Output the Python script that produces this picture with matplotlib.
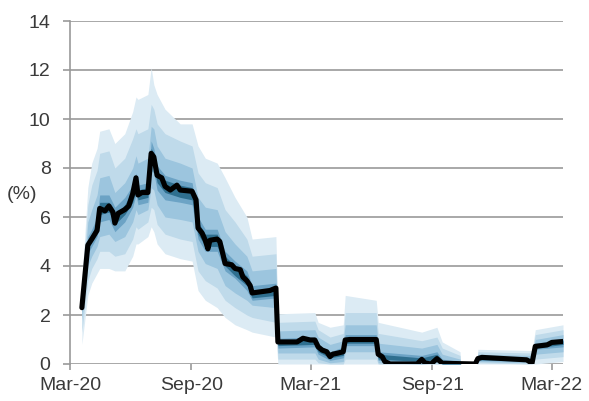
import numpy as np
import pandas as pd
import matplotlib
matplotlib.use("Agg")
import matplotlib.pyplot as plt
import matplotlib.dates as mdates
from matplotlib.transforms import blended_transform_factory

# медиана (чёрная линия)
line_dates = ["2020-03-19", "2020-03-28", "2020-04-03", "2020-04-11", "2020-04-15",
              "2020-04-23", "2020-04-29", "2020-05-05", "2020-05-08", "2020-05-13",
              "2020-05-23", "2020-05-29", "2020-06-04", "2020-06-09", "2020-06-12",
              "2020-06-18", "2020-06-27", "2020-07-02", "2020-07-06", "2020-07-11",
              "2020-07-18", "2020-07-23", "2020-07-31", "2020-08-10", "2020-08-15",
              "2020-09-02", "2020-09-08", "2020-09-11", "2020-09-17", "2020-09-22",
              "2020-09-26", "2020-09-29", "2020-10-10", "2020-10-14", "2020-10-19",
              "2020-10-22", "2020-11-01", "2020-11-06", "2020-11-14", "2020-11-18",
              "2020-11-24", "2020-11-29", "2020-12-02", "2020-12-29", "2021-01-07",
              "2021-01-10", "2021-02-08", "2021-02-17", "2021-02-28", "2021-03-07",
              "2021-03-12", "2021-03-18", "2021-03-25", "2021-03-30", "2021-04-03",
              "2021-04-10", "2021-04-19", "2021-04-22", "2021-04-29", "2021-06-08",
              "2021-06-11", "2021-06-17", "2021-06-21", "2021-06-29", "2021-08-09",
              "2021-08-16", "2021-08-21", "2021-08-30", "2021-09-08", "2021-09-16",
              "2021-11-05", "2021-11-09", "2021-11-15", "2022-01-22", "2022-01-30",
              "2022-02-04", "2022-02-22", "2022-03-01", "2022-03-18"]
median = [2.3, 4.85, 5.1, 5.45, 6.35,
          6.25, 6.45, 6.2, 5.75, 6.15,
          6.3, 6.45, 6.95, 7.6, 6.9,
          7.0, 7.0, 8.6, 8.45, 7.7,
          7.6, 7.25, 7.1, 7.3, 7.1,
          7.05, 6.7, 5.55, 5.35, 5.05,
          4.7, 5.05, 5.1, 5.0, 4.45,
          4.1, 4.05, 3.9, 3.85, 3.55,
          3.4, 3.2, 2.9, 3.0, 3.1,
          0.9, 0.9, 1.05, 0.98, 0.98,
          0.7, 0.57, 0.5, 0.3, 0.4,
          0.44, 0.5, 0.98, 1.0, 1.0,
          0.4, 0.3, 0.1, 0.0, 0.0,
          0.19, 0.04, 0.0, 0.22, 0.03,
          0.0, 0.22, 0.27, 0.17, 0.03,
          0.72, 0.78, 0.88, 0.92]

# интервалы (от внешнего к внутреннему)
band_dates = ["2020-03-19", "2020-03-28", "2020-04-03", "2020-04-11", "2020-04-15",
              "2020-04-29", "2020-05-08", "2020-05-23", "2020-06-04", "2020-06-09",
              "2020-06-12", "2020-06-27", "2020-07-02", "2020-07-06", "2020-07-11",
              "2020-07-23", "2020-08-15", "2020-09-02", "2020-09-11", "2020-09-22",
              "2020-10-10", "2020-10-22", "2020-11-06", "2020-11-24", "2020-12-02",
              "2021-01-07", "2021-01-10", "2021-03-07", "2021-03-12", "2021-03-30",
              "2021-04-19", "2021-04-22", "2021-06-08", "2021-06-11", "2021-08-16",
              "2021-09-08", "2021-09-16", "2021-10-13", "2021-10-14", "2021-11-08",
              "2021-11-09", "2022-01-30", "2022-02-04", "2022-03-18"]
lo1 = [0.8, 2.8, 3.3, 3.7, 3.9, 3.9, 3.8, 3.8, 4.4, 4.9, 4.9, 5.2, 5.6, 5.4, 4.9,
       4.5, 4.3, 4.2, 3.0, 2.6, 2.3, 1.9, 1.6, 1.4, 1.3, 1.1, 0.0, 0.0, 0.0, 0.0,
       0.0, 0.0, 0.0, 0.0, 0.0, 0.0, 0.0, 0.0, 0.0, 0.0, 0.0, 0.0, 0.0, 0.1]
lo2 = [1.3, 3.4, 3.9, 4.3, 4.6, 4.6, 4.4, 4.5, 5.1, 5.6, 5.5, 5.8, 6.4, 6.3, 5.7,
       5.3, 5.1, 5.0, 3.8, 3.4, 3.1, 2.6, 2.3, 2.0, 1.9, 1.7, 0.2, 0.2, 0.05, 0.0,
       0.0, 0.2, 0.2, 0.0, 0.0, 0.0, 0.0, 0.0, 0.0, 0.0, 0.05, 0.0, 0.2, 0.3]
lo3 = [1.8, 4.0, 4.4, 4.8, 5.2, 5.3, 5.0, 5.2, 5.8, 6.3, 6.1, 6.3, 7.2, 7.1, 6.5,
       6.0, 5.9, 5.8, 4.6, 4.1, 3.9, 3.2, 2.9, 2.6, 2.4, 2.3, 0.45, 0.45, 0.2, 0.05,
       0.1, 0.5, 0.5, 0.05, 0.0, 0.05, 0.0, 0.0, 0.0, 0.0, 0.1, 0.05, 0.4, 0.5]
lo4 = [2.1, 4.5, 4.8, 5.2, 5.8, 5.9, 5.4, 5.8, 6.4, 6.9, 6.5, 6.6, 7.9, 7.8, 7.1,
       6.7, 6.6, 6.5, 5.1, 4.6, 4.6, 3.8, 3.5, 3.0, 2.6, 2.7, 0.65, 0.7, 0.4, 0.15,
       0.25, 0.75, 0.75, 0.15, 0.05, 0.1, 0.0, 0.0, 0.0, 0.0, 0.15, 0.1, 0.6, 0.7]
lo5 = [2.2, 4.7, 5.0, 5.4, 6.1, 6.2, 5.7, 6.1, 6.6, 7.1, 6.7, 6.8, 8.2, 8.0, 7.4,
       7.0, 6.8, 6.7, 5.3, 4.8, 4.8, 4.0, 3.6, 3.2, 2.7, 2.8, 0.75, 0.8, 0.5, 0.25,
       0.35, 0.85, 0.85, 0.2, 0.1, 0.2, 0.0, 0.0, 0.0, 0.0, 0.18, 0.12, 0.65, 0.8]
hi5 = [2.4, 5.0, 5.3, 5.8, 6.6, 6.6, 6.1, 6.5, 7.1, 7.6, 7.1, 7.2, 8.8, 8.6, 7.9,
       7.5, 7.3, 7.2, 5.8, 5.3, 5.3, 4.4, 4.0, 3.6, 3.0, 3.1, 0.95, 1.0, 0.7, 0.4,
       0.6, 1.05, 1.05, 0.4, 0.25, 0.4, 0.1, 0.05, 0.0, 0.0, 0.27, 0.22, 0.8, 0.95]
hi4 = [2.5, 5.2, 5.5, 6.0, 6.9, 6.9, 6.4, 6.8, 7.3, 7.8, 7.3, 7.4, 9.1, 8.8, 8.1,
       7.7, 7.5, 7.4, 6.0, 5.5, 5.5, 4.6, 4.2, 3.8, 3.2, 3.3, 1.05, 1.1, 0.8, 0.5,
       0.7, 1.2, 1.2, 0.5, 0.35, 0.5, 0.2, 0.1, 0.0, 0.0, 0.3, 0.25, 0.85, 1.0]
hi3 = [2.8, 5.8, 6.3, 6.9, 7.6, 7.7, 7.0, 7.4, 8.0, 8.5, 8.2, 8.4, 9.7, 9.6, 8.9,
       8.4, 8.2, 8.0, 6.8, 6.4, 6.3, 5.4, 4.9, 4.4, 3.8, 3.9, 1.35, 1.4, 1.1, 0.8,
       0.95, 1.6, 1.6, 0.85, 0.65, 0.8, 0.4, 0.2, 0.0, 0.0, 0.4, 0.35, 1.0, 1.2]
hi2 = [3.1, 6.5, 7.3, 7.9, 8.6, 8.7, 8.0, 8.4, 9.2, 9.6, 9.4, 9.6, 10.6, 10.4, 9.8,
       9.4, 9.1, 8.9, 7.8, 7.4, 7.2, 6.3, 5.8, 5.1, 4.4, 4.5, 1.7, 1.75, 1.4, 1.1,
       1.25, 2.1, 2.1, 1.25, 0.95, 1.1, 0.65, 0.35, 0.0, 0.0, 0.5, 0.45, 1.2, 1.4]
hi1 = [3.4, 7.2, 8.2, 8.8, 9.5, 9.6, 9.0, 9.4, 10.3, 10.9, 10.8, 11.0, 12.1, 11.4, 11.0,
       10.4, 9.8, 9.8, 8.9, 8.4, 8.2, 7.6, 6.8, 6.0, 5.1, 5.2, 2.05, 2.1, 1.7, 1.5,
       1.6, 2.8, 2.6, 1.7, 1.3, 1.5, 0.9, 0.5, 0.0, 0.0, 0.6, 0.55, 1.4, 1.6]

band_colors = ["#dcebf4", "#bfdaea", "#9cc5de", "#6ca3c5", "#2f6f8f"]

x_line = pd.to_datetime(line_dates)
x_band = pd.to_datetime(band_dates)

plt.rcParams['font.family'] = ['Liberation Sans', 'DejaVu Sans']

fig = plt.figure(figsize=(5.89, 4.01), dpi=100)
ax = fig.add_axes([70 / 589, 1 - 364 / 401, 493 / 589, 343 / 401])

for lo, hi, c in zip([lo1, lo2, lo3, lo4, lo5], [hi1, hi2, hi3, hi4, hi5], band_colors):
    ax.fill_between(x_band, lo, hi, color=c, linewidth=0, zorder=2)

ax.plot(x_line, median, color="black", lw=3.7, solid_capstyle="round",
        solid_joinstyle="round", zorder=3)

ax.set_ylim(0, 14)
ax.set_yticks(range(0, 15, 2))
ax.set_xlim(pd.Timestamp("2020-03-01"), pd.Timestamp("2022-03-18"))
ax.set_xticks(pd.to_datetime(["2020-03-01", "2020-09-01", "2021-03-01",
                              "2021-09-01", "2022-03-01"]))
ax.xaxis.set_major_formatter(mdates.DateFormatter("%b-%y"))

gray = "#999999"
txt = "#3a3a3a"
ax.grid(axis="y", color=gray, lw=1.2, zorder=1)
for s in ["top", "right", "bottom"]:
    ax.spines[s].set_visible(False)
ax.spines["left"].set_color(gray)
ax.spines["left"].set_linewidth(1.2)
ax.tick_params(axis="y", length=5, width=1.2, color=gray, pad=9,
               labelsize=14, labelcolor=txt)
ax.tick_params(axis="x", length=4.5, width=1.2, color=gray, pad=5,
               labelsize=14, labelcolor=txt)

trans = blended_transform_factory(ax.transAxes, ax.transData)
ax.text(-0.097, 6.9, "(%)", transform=trans, ha="center", va="center",
        fontsize=14, color=txt)

fig.savefig("out.png", dpi=100)
